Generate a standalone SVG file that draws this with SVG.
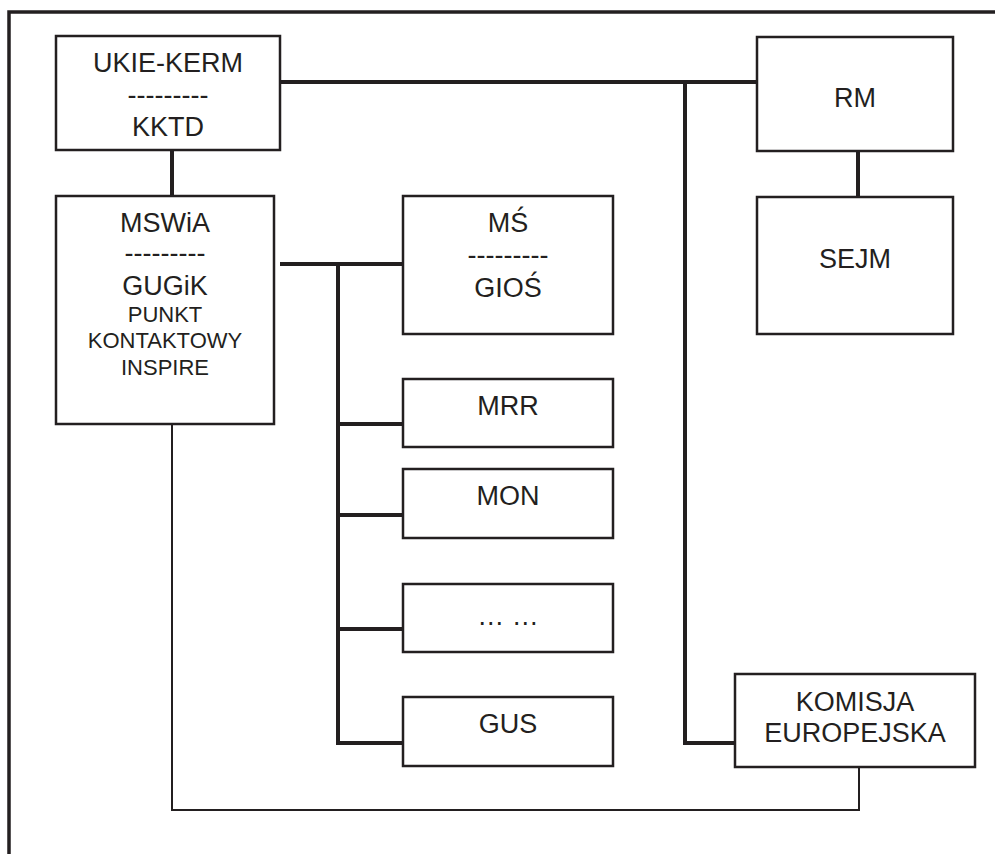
<svg xmlns="http://www.w3.org/2000/svg" width="995" height="854" viewBox="0 0 995 854">
<style>
.box{fill:#fff;stroke:#231f20;stroke-width:2.5}
.t{font-family:"Liberation Sans",Arial,sans-serif;font-size:27px;fill:#231f20;text-anchor:middle}
.s{font-size:22px}
.thick{fill:none;stroke:#231f20;stroke-width:4}
.thin{fill:none;stroke:#231f20;stroke-width:2}
.frame{fill:none;stroke:#231f20;stroke-width:3.5}
</style>
<rect width="995" height="854" fill="#fff"/>
<path class="frame" d="M9,854 V12 H995"/>
<g id="connectors">
<path class="thick" d="M280,82 H757"/>
<path class="thick" d="M685,82 V743 H735"/>
<path class="thick" d="M172,150 V196"/>
<path class="thick" d="M858,151 V197"/>
<path class="thick" d="M280,264 H403"/>
<path class="thick" d="M338,264 V743 H403"/>
<path class="thick" d="M338,424 H403"/>
<path class="thick" d="M338,515 H403"/>
<path class="thick" d="M338,629 H403"/>
<path class="thin" d="M172,424 V810 H859 V767"/>
</g>
<g id="ukie">
<rect class="box" x="56" y="36" width="224" height="114"/>
<text class="t" x="168" y="72">UKIE-KERM</text>
<text class="t" x="168" y="104">---------</text>
<text class="t" x="168" y="136">KKTD</text>
</g>
<g id="mswia">
<rect class="box" x="56" y="196" width="218" height="228"/>
<text class="t" x="165" y="232">MSWiA</text>
<text class="t" x="165" y="262">---------</text>
<text class="t" x="165" y="295">GUGiK</text>
<text class="t s" x="165" y="322">PUNKT</text>
<text class="t s" x="165" y="348">KONTAKTOWY</text>
<text class="t s" x="165" y="375">INSPIRE</text>
</g>
<g id="ms">
<rect class="box" x="403" y="196" width="210" height="138"/>
<text class="t" x="508" y="232">MŚ</text>
<text class="t" x="508" y="264">---------</text>
<text class="t" x="508" y="297">GIOŚ</text>
</g>
<g id="mrr">
<rect class="box" x="403" y="379" width="210" height="68"/>
<text class="t" x="508" y="415">MRR</text>
</g>
<g id="mon">
<rect class="box" x="403" y="469" width="210" height="69"/>
<text class="t" x="508" y="505">MON</text>
</g>
<g id="etc">
<rect class="box" x="403" y="584" width="210" height="68"/>
<text class="t" x="508" y="625">… …</text>
</g>
<g id="gus">
<rect class="box" x="403" y="697" width="210" height="69"/>
<text class="t" x="508" y="733">GUS</text>
</g>
<g id="rm">
<rect class="box" x="757" y="37" width="196" height="114"/>
<text class="t" x="855" y="107">RM</text>
</g>
<g id="sejm">
<rect class="box" x="757" y="197" width="196" height="137"/>
<text class="t" x="855" y="268">SEJM</text>
</g>
<g id="ke">
<rect class="box" x="735" y="674" width="240" height="93"/>
<text class="t" x="855" y="711">KOMISJA</text>
<text class="t" x="855" y="742">EUROPEJSKA</text>
</g>
</svg>
